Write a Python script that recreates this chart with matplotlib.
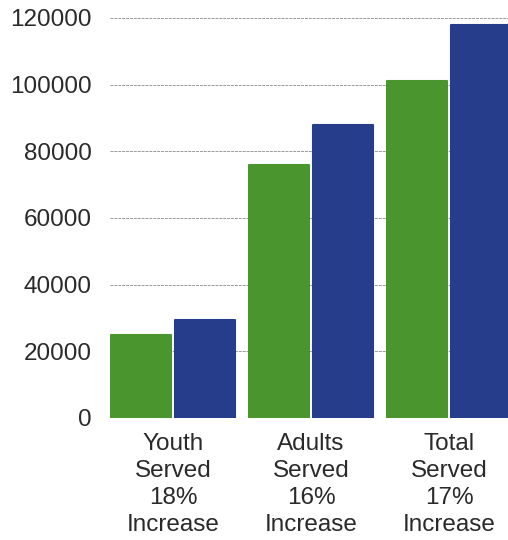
import matplotlib
matplotlib.use("Agg")
import matplotlib.pyplot as plt
import numpy as np

plt.rcParams['font.family'] = ['Liberation Sans', 'DejaVu Sans']

# people served, before and after
categories = ["Youth\nServed\n18%\nIncrease",
              "Adults\nServed\n16%\nIncrease",
              "Total\nServed\n17%\nIncrease"]
before = [25000, 76000, 101000]
after = [29500, 88000, 118000]
yticks = [0, 20000, 40000, 60000, 80000, 100000, 120000]

green = "#4a952e"
blue = "#253d8b"

fig = plt.figure(figsize=(5.08, 5.40), dpi=100)
ax = fig.add_axes([110 / 508, 122 / 540, 398 / 508, 400 / 540])

x = np.arange(len(categories))
w = 0.435
off = 0.232
ax.bar(x - off, before, w, color=green, edgecolor=green, linewidth=1.5,
       joinstyle="round", zorder=3)
ax.bar(x + off, after, w, color=blue, edgecolor=blue, linewidth=1.5,
       joinstyle="round", zorder=3)

ax.set_xlim(-0.457, 2.428)
ax.set_ylim(0, 120000)
ax.set_yticks(yticks)
ax.set_yticklabels([str(t) for t in yticks])
ax.set_xticks(x)
ax.set_xticklabels(categories, linespacing=1.28)

ax.tick_params(axis="y", length=0, pad=13, labelsize=17.5, labelcolor="#2a2a2a")
ax.tick_params(axis="x", length=0, pad=11, labelsize=17.5, labelcolor="#2a2a2a")
ax.grid(axis="y", color="#9a9a9a", linewidth=0.7, linestyle=(0, (3, 1)), zorder=0)
for s in ax.spines.values():
    s.set_visible(False)

fig.savefig("out.png", dpi=100)
